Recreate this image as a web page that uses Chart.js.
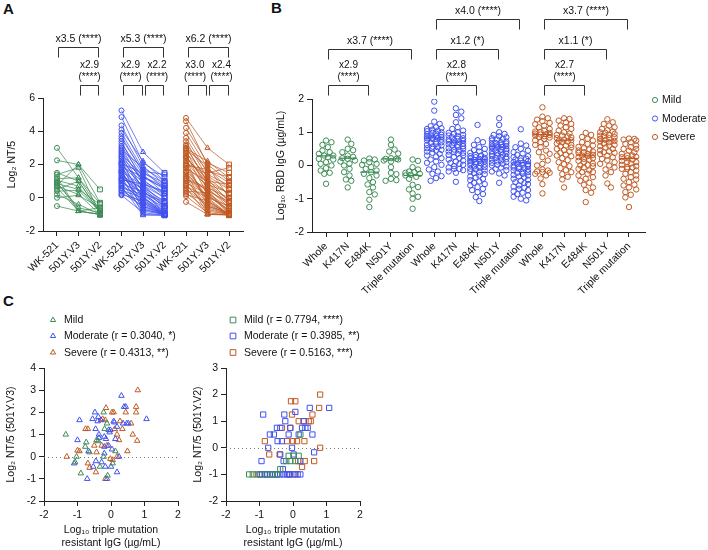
<!DOCTYPE html>
<html>
<head>
<meta charset="utf-8">
<script src="https://cdn.jsdelivr.net/npm/chart.js@4.4.0/dist/chart.umd.min.js"></script>
<style>
  body { margin: 0; background: #fff; width: 708px; height: 550px; position: relative; overflow: hidden;
         font-family: 'Liberation Sans', Arial, sans-serif; }
  canvas { position: absolute; }
  .tag { position: absolute; font-weight: bold; font-size: 15px; color: #111; }
</style>
</head>
<body>
<div class="tag" style="left:3px;top:0px">A</div>
<div class="tag" style="left:271px;top:-1px">B</div>
<div class="tag" style="left:3px;top:292px">C</div>
<canvas id="chartA" width="250" height="300" style="left:0;top:0"></canvas>
<canvas id="chartB" width="453" height="300" style="left:255px;top:0"></canvas>
<canvas id="chartC1" width="190" height="250" style="left:0;top:300px"></canvas>
<canvas id="chartC2" width="190" height="250" style="left:190px;top:300px"></canvas>
<script>
// ---------- Panel A: paired NT titres (log2 NT/5) ----------
const aVariants = ["WK-521", "501Y.V3", "501Y.V2"];
const aMildWK = [3.0, 2.25, 1.5, 1.4, 1.25, 1.15, 1.05, 0.95, 0.85, 0.75, 0.7, 0.6, 0.5, 0.4, 0.2, 0.0, -0.5, 0.9];
const aMildV3 = [1.2, 2.0, 1.0, 1.8, -0.8, 1.2, 0.7, -0.8, 0.5, 2.0, 0.2, -0.8, 1.0, 0.45, -0.4, 0.15, -0.8, -0.6];
const aMildV2 = [-0.35, 0.5, -0.9, -1.0, -0.6, -0.75, -0.9, -1.0, -0.4, -0.3, -1.0, -1.0, -0.9, -0.8, -1.0, -0.6, -1.0, -0.9];
const aModWK = [5.25, 4.85, 4.35, 4.1, 3.9, 3.7, 3.55, 3.4, 3.25, 3.1, 3.0, 2.9, 2.8, 2.7, 2.6, 2.5, 2.45, 2.35, 2.25, 2.15,
  2.1, 2.0, 1.95, 1.85, 1.8, 1.7, 1.65, 1.55, 1.5, 1.45, 1.35, 1.3, 1.2, 1.15, 1.05, 1.0, 0.9, 0.85, 0.75, 0.7,
  0.6, 0.55, 0.45, 0.4, 0.3, 0.2, 0.15, 1.1, 2.05, 1.6];
const aModV3 = [2.75, 2.1, 1.9, 2.2, 1.7, 1.5, 1.6, 0.9, 1.4, 1.2, 0.8, 1.8, 1.0, 0.5, 1.3, 0.3, 1.1, 0.6, -0.2, 0.9,
  0.0, 0.7, -0.5, 1.25, 0.4, 0.2, -0.7, 0.75, 0.1, -0.3, 0.5, -1.0, 0.25, 0.6, -0.4, 0.0, -0.8, 0.35, -0.1, -1.05,
  0.2, -0.6, 0.0, -0.3, -0.5, -0.2, -0.9, 0.8, 1.5, -0.7];
const aModV2 = [1.5, 1.25, 0.8, 1.0, 0.5, 0.75, 1.4, 0.0, 0.25, 0.6, -0.5, 1.0, 0.3, -1.0, 0.5, -0.25, 0.1, -0.6, -1.0, 0.25,
  -1.0, -0.3, -1.0, 0.7, -0.5, -0.8, -1.0, 0.0, -1.0, -1.0, -0.4, -1.05, -0.7, -0.2, -1.0, -0.9, -1.0, -0.5, -1.0, -1.05,
  -0.6, -1.0, -0.8, -1.0, -1.0, -0.9, -1.05, 0.4, 0.9, -1.0];
const aSevWK = [4.8, 4.6, 4.2, 3.9, 3.6, 3.4, 3.2, 3.1, 3.0, 2.9, 2.8, 2.7, 2.6, 2.5, 2.4, 2.3, 2.2, 2.1, 2.0, 1.9,
  1.8, 1.75, 1.6, 1.5, 1.4, 1.3, 1.2, 1.1, 1.0, 0.9, 0.8, 0.7, 0.6, 0.5, 0.4, 0.3, 0.2, 0.1, -0.25, 2.95,
  2.45, 1.95, 1.55, 1.15, 0.75];
const aSevV3 = [3.0, 2.0, 2.1, 1.8, 1.5, 1.2, 1.6, 0.9, 1.0, 1.9, 0.5, 1.3, 0.2, 0.8, 1.1, -0.5, 0.6, 1.4, -0.2, 0.7,
  0.0, 1.0, 0.3, -0.8, 0.4, -1.0, 0.1, 0.5, -0.3, 0.2, -0.6, 0.0, -1.0, -0.4, 0.3, -0.7, -0.2, -0.9, -1.0, 2.2,
  0.9, 1.7, -0.1, 0.6, -0.5];
const aSevV2 = [2.0, 1.0, 1.5, 0.5, 1.8, 0.2, 1.25, -0.5, 0.8, 0.0, -1.0, 0.5, -0.8, 0.3, -0.2, -1.0, 0.0, 0.75, -1.0, -0.3,
  -1.0, 0.25, -0.6, -1.0, -0.25, -1.0, -0.7, -0.4, -1.0, -0.9, -1.0, -0.5, -1.05, -1.0, -0.8, -1.0, -1.0, -1.05, -1.0, 1.2,
  -0.2, 0.9, -1.0, -0.6, -0.9];
// comparisons (category index from/to, row, label, small label nudge)
const aBrFrom = [0, 1, 3, 3, 4, 6, 6, 7];
const aBrTo = [2, 2, 5, 4, 5, 8, 7, 8];
const aBrRow = [1, 0, 1, 0, 0, 1, 0, 0];
const aBrText = ["x3.5 (****)", "x2.9\n(****)", "x5.3 (****)", "x2.9\n(****)", "x2.2\n(****)",
  "x6.2 (****)", "x3.0\n(****)", "x2.4\n(****)"];
const aBrNudge = [0, 0, 0, -2.5, 2.5, 0, -2.5, 2.5];

// ---------- Panel B: log10 RBD IgG ----------
const bCategories = ["Whole", "K417N", "E484K", "N501Y", "Triple mutation"];
const bMildWhole = [0.75, 0.7, 0.62, 0.55, 0.45, 0.4, 0.35, 0.3, 0.3, 0.25, 0.2, 0.18, 0.1, 0.05, 0.0, -0.08, -0.15, -0.22, -0.25, -0.55];
const bMildK417N = [0.78, 0.65, 0.5, 0.46, 0.4, 0.3, 0.26, 0.22, 0.2, 0.15, 0.12, 0.06, 0.0, -0.1, -0.2, -0.3, -0.42, -0.46, -0.66];
const bMildE484K = [0.21, 0.18, 0.15, 0.1, 0.05, 0.02, -0.05, -0.1, -0.15, -0.2, -0.25, -0.3, -0.38, -0.5, -0.57, -0.66, -0.8, -0.87, -1.03, -1.25];
const bMildN501Y = [0.78, 0.62, 0.48, 0.42, 0.36, 0.22, 0.2, 0.2, 0.18, 0.15, 0.12, -0.05, -0.22, -0.26, -0.4, -0.44, -0.46];
const bMildTriple = [0.18, 0.14, -0.05, -0.12, -0.18, -0.22, -0.25, -0.28, -0.3, -0.34, -0.4, -0.58, -0.65, -0.72, -0.84, -0.94, -1.0, -1.3, -0.2];
const bModWhole = [1.92, 1.65, 1.32, 1.25, 1.18, 1.15, 1.12, 1.1, 1.08, 1.05, 1.03, 1.0, 0.98, 0.96, 0.94, 0.92, 0.9, 0.88, 0.87, 0.85,
  0.84, 0.83, 0.82, 0.8, 0.78, 0.75, 0.72, 0.7, 0.68, 0.65, 0.62, 0.6, 0.57, 0.55, 0.52, 0.5, 0.47, 0.45, 0.42, 0.38,
  0.35, 0.3, 0.27, 0.22, 0.18, 0.12, 0.08, 0.02, -0.05, -0.12, -0.18, -0.25, -0.32, -0.38, -0.46];
const bModK417N = [1.72, 1.62, 1.52, 1.42, 1.3, 1.15, 1.1, 1.05, 1.0, 0.98, 0.95, 0.92, 0.9, 0.88, 0.85, 0.82, 0.8, 0.78, 0.76, 0.74,
  0.72, 0.7, 0.68, 0.66, 0.64, 0.62, 0.6, 0.58, 0.55, 0.52, 0.5, 0.48, 0.45, 0.42, 0.4, 0.38, 0.35, 0.32, 0.3, 0.26,
  0.22, 0.18, 0.15, 0.12, 0.08, 0.05, 0.02, -0.02, -0.06, -0.1, -0.14, -0.18, -0.22, -0.1, -0.49];
const bModE484K = [1.22, 0.76, 0.7, 0.62, 0.55, 0.5, 0.46, 0.42, 0.38, 0.35, 0.32, 0.3, 0.28, 0.25, 0.23, 0.21, 0.2, 0.18, 0.17, 0.15,
  0.14, 0.12, 0.1, 0.08, 0.06, 0.05, 0.03, 0.01, -0.01, -0.03, -0.05, -0.07, -0.1, -0.12, -0.15, -0.18, -0.2, -0.23, -0.26, -0.3,
  -0.33, -0.36, -0.4, -0.44, -0.48, -0.52, -0.56, -0.6, -0.65, -0.7, -0.74, -0.8, -0.86, -0.95, -1.07];
const bModN501Y = [1.42, 1.22, 1.0, 0.95, 0.92, 0.88, 0.85, 0.82, 0.8, 0.78, 0.75, 0.72, 0.7, 0.68, 0.66, 0.64, 0.62, 0.6, 0.58, 0.57,
  0.56, 0.55, 0.53, 0.5, 0.48, 0.46, 0.44, 0.42, 0.4, 0.38, 0.36, 0.34, 0.32, 0.3, 0.28, 0.26, 0.24, 0.22, 0.2, 0.18,
  0.15, 0.12, 0.1, 0.08, 0.05, 0.02, 0.0, -0.03, -0.06, -0.1, -0.14, -0.18, -0.24, -0.3, -0.52];
const bModTriple = [1.09, 0.66, 0.6, 0.55, 0.5, 0.45, 0.4, 0.36, 0.32, 0.28, 0.25, 0.22, 0.2, 0.18, 0.15, 0.13, 0.1, 0.08, 0.06, 0.04,
  0.02, 0.0, -0.02, -0.04, -0.06, -0.08, -0.1, -0.12, -0.15, -0.18, -0.2, -0.22, -0.25, -0.28, -0.3, -0.33, -0.36, -0.4, -0.43, -0.46,
  -0.5, -0.53, -0.56, -0.6, -0.63, -0.67, -0.7, -0.74, -0.78, -0.82, -0.86, -0.9, -0.94, -1.0, -1.05];
const bSevWhole = [1.75, 1.47, 1.42, 1.38, 1.33, 1.28, 1.24, 1.2, 1.15, 1.1, 1.05, 1.02, 1.0, 0.98, 0.96, 0.94, 0.93, 0.92, 0.9, 0.88,
  0.86, 0.84, 0.8, 0.76, 0.7, 0.62, 0.55, 0.45, 0.35, 0.25, 0.15, 0.05, 0.0, -0.12, -0.15, -0.18, -0.2, -0.22, -0.25, -0.3,
  -0.39, -0.56, -0.84, 0.4, 0.65];
const bSevK417N = [1.42, 1.4, 1.35, 1.3, 1.25, 1.2, 1.15, 1.1, 1.05, 1.0, 0.96, 0.92, 0.88, 0.85, 0.82, 0.78, 0.76, 0.74, 0.72, 0.7,
  0.66, 0.62, 0.58, 0.54, 0.5, 0.46, 0.42, 0.38, 0.33, 0.28, 0.22, 0.16, 0.1, 0.04, -0.02, -0.08, -0.14, -0.2, -0.26, -0.34,
  -0.42, -0.66, 0.3, 0.6, 0.9];
const bSevE484K = [0.98, 0.92, 0.86, 0.8, 0.75, 0.7, 0.65, 0.6, 0.56, 0.52, 0.48, 0.45, 0.42, 0.38, 0.35, 0.32, 0.3, 0.28, 0.25, 0.22,
  0.18, 0.14, 0.1, 0.06, 0.02, -0.02, -0.06, -0.1, -0.15, -0.2, -0.25, -0.3, -0.35, -0.4, -0.46, -0.52, -0.58, -0.66, -0.74, -0.82,
  -1.1, 0.2, 0.4, 0.0, -0.2];
const bSevN501Y = [1.39, 1.3, 1.25, 1.2, 1.15, 1.1, 1.06, 1.02, 0.98, 0.95, 0.92, 0.88, 0.85, 0.82, 0.8, 0.77, 0.74, 0.72, 0.7, 0.66,
  0.62, 0.58, 0.54, 0.5, 0.46, 0.42, 0.38, 0.34, 0.3, 0.25, 0.2, 0.15, 0.1, 0.05, 0.0, -0.06, -0.12, -0.2, -0.3, -0.54,
  -0.66, 0.9, 0.6, 0.4, 1.0];
const bSevTriple = [0.81, 0.8, 0.78, 0.75, 0.7, 0.65, 0.6, 0.55, 0.5, 0.45, 0.4, 0.35, 0.3, 0.26, 0.22, 0.18, 0.14, 0.1, 0.06, 0.02,
  -0.02, -0.06, -0.1, -0.15, -0.2, -0.25, -0.3, -0.35, -0.42, -0.5, -0.58, -0.66, -0.72, -0.8, -0.88, -0.96, -1.25, 0.25, 0.1, -0.05,
  -0.1, 0.5, 0.3, -0.4, -0.6];
const bMedMild = [0.29, 0.22, -0.2, 0.2, -0.3];
const bMedMod = [0.83, 0.71, 0.18, 0.56, 0.08];
const bMedSev = [0.93, 0.76, 0.31, 0.74, 0.21];
const bBrFrom = [0, 0, 5, 5, 5, 10, 10, 10];
const bBrTo = [2, 4, 7, 8, 9, 12, 13, 14];
const bBrRow = [0, 1, 0, 1, 2, 0, 1, 2];
const bBrText = ["x2.9\n(****)", "x3.7 (****)", "x2.8\n(****)", "x1.2 (*)", "x4.0 (****)",
  "x2.7\n(****)", "x1.1 (*)", "x3.7 (****)"];

// ---------- Panel C: triple-mutation-resistant IgG vs NT ----------
const cV3MildX = [-1.35, -1.03, -1.07, -0.9, -0.74, -0.77, -0.64, -0.33, -0.43, -0.38, -0.22, -0.19, -0.22, -0.1, 0.13, -0.12, 0.05];
const cV3MildY = [1.0, 0, -0.25, -0.75, 0.65, 0.45, 0.2, -0.45, 0.75, 0.7, 2.0, 1.25, 0, -0.85, 0.25, 1.5, -0.3];
const cV3ModX = [-0.94, -1.0, -1.1, -0.71, -0.67, -0.48, -0.55, -0.46, -0.4, -0.36, -0.36, -0.53, -0.45, -0.28, -0.17, -0.2, -0.2,
  -0.15, -0.07, -0.07, -0.04, -0.12, 0.03, 0.08, 0.1, 0.13, 0.18, 0.24, 0.18, 0.31, 0.39, 0.44, 0.52, 0.47, 1.06, 0.0, -0.38,
  -0.3, -0.02, 0.36, -0.2];
const cV3ModY = [1.65, 0.75, -0.3, -1.0, 0.25, 2.0, 1.7, 1.25, 1.6, 1.0, 0.85, -0.45, -0.2, -0.25, -0.45, 0.15, 0.9, 0.8, 0.5,
  1.2, 1.1, -1.0, 0.33, 1.6, 1.55, 0.8, 1.35, 0.0, -0.7, 2.75, 2.25, 2.25, 1.5, 1.5, 1.7, -0.45, 1.8, 1.65, 1.2, 1.5, 0.45];
const cV3SevX = [-1.32, -1.0, -0.94, -0.76, -0.69, -0.69, -0.64, -0.45, -0.25, -0.15, -0.17, -0.12, -0.28, 0.03, 0.08, 0.11, -0.02,
  0.05, -0.17, 0.27, 0.18, 0.24, 0.34, 0.49, 0.6, 0.65, 0.75, 0.8, 0.75, 0.78, 0.18, 0.44, -0.5, -0.43];
const cV3SevY = [0, 0.28, 0.25, 1.25, 1.25, -0.3, -0.5, -0.7, 1.7, 2.2, 1.65, 0.5, 0.5, 2.0, 2.0, 1.25, -0.1, -0.15, -1.0, 1.6,
  1.0, 0.75, 1.25, 0.25, 1.5, 1.0, 2.25, 3.0, 2.0, 0.72, 0, 2.0, 0.5, 0.2];
const cV2MildX = [-1.31, -1.2, -1.0, -0.79, -0.2, -0.13, 0.02, 0.17, 0.22, -0.08, 0.07, -0.48, -0.38, -0.6];
const cV2MildY = [-1, -1, -1, -1, -0.5, -0.3, -0.3, -0.3, 0.5, -0.5, -0.5, -1, -0.8, -1];
const cV2ModX = [-0.89, -0.94, -0.74, -0.69, -0.57, -0.48, -0.38, -0.46, -0.33, -0.38, -0.28, -0.23, -0.26, -0.13, -0.08, 0.07,
  0.02, -0.03, 0.17, 0.27, 0.32, 0.37, 0.5, 0.58, 0.63, 1.08, -0.99, -0.84, -0.69, -0.54, -0.38, -0.28, -0.18, -0.08, 0.07,
  0.22, -0.3, 0.22, 0.44, -0.92, -0.77, -0.62, -0.46, -0.12, 0.14];
const cV2ModY = [1.25, -0.5, 0, 0.5, 0.5, 0.75, 0.75, 0.25, 0.25, -0.25, -0.5, 1.0, 1.25, 0.5, 0.75, 1.35, -0.25, 0, 0.5, 0.75,
  1.0, 0.75, 1.5, 0.5, -0.17, 1.5, -1, -1, -1, -1, -1, -1, -1, -1, -1, -1, -0.8, -0.5, 0.75, -1, -1, -1, -1, -1, -1];
const cV2SevX = [-1.09, -0.84, -0.71, -0.33, -0.4, -0.18, -0.08, -0.03, -0.06, 0.07, 0, 0.12, 0.15, 0.27, 0.35, 0.34, 0.47,
  0.58, 0.32, 0.53, 0.63, 0.81, 0.78, 0.81, 0.02, -0.13, 0.17];
const cV2SevY = [-1, 0.25, -0.25, 0.75, -0.25, 0.25, 0.75, 1.25, 1.75, 1.75, 0.25, 0.25, -0.5, -0.72, -0.5, 0.25, 1.0, 1.25,
  1.0, 1.0, -0.5, 2.0, 1.5, 0, -1, -1, 1.0];
const cV3Labels = ["Mild", "Moderate (r = 0.3040, *)", "Severe (r = 0.4313, **)"];
const cV2Labels = ["Mild (r = 0.7794, ****)", "Moderate (r = 0.3985, **)", "Severe (r = 0.5163, ***)"];
const groupNames = ["Mild", "Moderate", "Severe"];

const GREEN = "#3e8c57", BLUE = "#4152ee", ORANGE = "#c05a24";
const COLORS = [GREEN, BLUE, ORANGE];
const FONT = "'Liberation Sans', Arial, sans-serif";
const NONE = "rgba(0,0,0,0)";

Chart.defaults.font.family = FONT;
Chart.defaults.font.size = 10.5;
Chart.defaults.color = "#111";
Chart.defaults.animation = false;
Chart.defaults.plugins.legend.display = false;
Chart.defaults.plugins.tooltip.enabled = false;

// small marker painter, used for the hand placed keys
function marker(ctx, style, x, y, r, color) {
  ctx.save();
  ctx.strokeStyle = color; ctx.lineWidth = 1;
  ctx.beginPath();
  if (style === "circle") ctx.arc(x, y, r, 0, Math.PI * 2);
  else if (style === "rect") { const s = r / Math.SQRT2; ctx.rect(x - s, y - s, 2 * s, 2 * s); }
  else { ctx.moveTo(x, y - r); ctx.lineTo(x + r * 0.866, y + r * 0.5); ctx.lineTo(x - r * 0.866, y + r * 0.5); ctx.closePath(); }
  ctx.stroke();
  ctx.restore();
}

const bracketPlugin = {
  id: "brackets",
  afterDraw(chart, args, o) {
    if (!o.from) return;
    const ctx = chart.ctx, xs = chart.scales.x;
    ctx.save();
    ctx.strokeStyle = "#333"; ctx.lineWidth = 1;
    ctx.fillStyle = "#111";
    ctx.textAlign = "center"; ctx.textBaseline = "middle";
    o.from.forEach((f, i) => {
      const x1 = Math.round(xs.getPixelForValue(f) + 1.5) + 0.5;
      const x2 = Math.round(xs.getPixelForValue(o.to[i]) - 1.5) + 0.5;
      const y = o.rowY[o.row[i]] + 0.5;
      ctx.beginPath();
      ctx.moveTo(x1, y + o.leg); ctx.lineTo(x1, y); ctx.lineTo(x2, y); ctx.lineTo(x2, y + o.leg);
      ctx.stroke();
      const lines = o.text[i].split("\n");
      const tx = (x1 + x2) / 2 + (o.nudge ? o.nudge[i] : 0);
      ctx.font = (lines.length > 1 ? "10px " : "10.5px ") + FONT;
      lines.forEach((t, k) => ctx.fillText(t, tx, y - 8 - (lines.length - 1 - k) * 12.5));
    });
    ctx.restore();
  }
};

const keyPlugin = {
  id: "key",
  afterDraw(chart, args, o) {
    if (!o.labels) return;
    const ctx = chart.ctx;
    ctx.save();
    ctx.font = "10.5px " + FONT; ctx.fillStyle = "#111";
    ctx.textAlign = "left"; ctx.textBaseline = "middle";
    o.labels.forEach((t, i) => {
      const y = o.y[i];
      marker(ctx, o.style, o.x, y, o.r, o.colors[i]);
      ctx.fillText(t, o.x + o.gap, y + 0.5);
    });
    ctx.restore();
  }
};

const zeroPlugin = {
  id: "zero",
  beforeDatasetsDraw(chart, args, o) {
    if (!o.on) return;
    const ctx = chart.ctx, a = chart.chartArea;
    const y = Math.round(chart.scales.y.getPixelForValue(0)) + 0.5;
    ctx.save();
    ctx.strokeStyle = "#777"; ctx.lineWidth = 1; ctx.setLineDash([1, 3]);
    ctx.beginPath(); ctx.moveTo(a.left, y); ctx.lineTo(a.right, y); ctx.stroke();
    ctx.restore();
  }
};
Chart.register(bracketPlugin, keyPlugin, zeroPlugin);

function axis(o) {
  const ax = {
    type: "linear", min: o.min, max: o.max,
    border: { color: "#222", width: 1 },
    grid: { drawOnChartArea: false, color: "#222", tickLength: 5 },
    ticks: Object.assign({ color: "#111", padding: 3, stepSize: o.step || 1, autoSkip: false }, o.ticks || {}),
    title: o.title ? { display: true, text: o.title, color: "#111", font: { size: 10.5 }, padding: o.titlePad || { top: 4, bottom: 2 } }
                   : { display: false },
    afterFit: s => { if (s.isHorizontal()) s.height = o.size; else s.width = o.size; }
  };
  if (o.values) ax.afterBuildTicks = s => { s.ticks = o.values.map(v => ({ value: v })); };
  return ax;
}

// ---------- chart A ----------
const aGroups = [[aMildWK, aMildV3, aMildV2], [aModWK, aModV3, aModV2], [aSevWK, aSevV3, aSevV2]];
const aTickLabels = [].concat(aVariants, aVariants, aVariants);
const aDatasets = [];
aGroups.forEach((g, gi) => {
  g[0].forEach((w, i) => {
    aDatasets.push({
      data: [{ x: gi * 3, y: w }, { x: gi * 3 + 1, y: g[1][i] }, { x: gi * 3 + 2, y: g[2][i] }],
      showLine: true, borderColor: COLORS[gi] + "d0", borderWidth: 0.9,
      pointStyle: ["circle", "triangle", "rect"], pointRadius: [2.5, 3, 3.4],
      pointBorderColor: COLORS[gi], pointBackgroundColor: NONE, pointBorderWidth: 1
    });
  });
});
new Chart(document.getElementById("chartA"), {
  type: "scatter",
  data: { datasets: aDatasets },
  options: {
    responsive: false,
    layout: { padding: { left: 0, right: 7, top: 98, bottom: 0 } },
    scales: {
      x: axis({ min: -0.65, max: 8.65, size: 69, values: aTickLabels.map((_, i) => i),
                ticks: { minRotation: 45, maxRotation: 45, callback: v => aTickLabels[v] } }),
      y: axis({ min: -2, max: 6, step: 2, size: 43, title: "Log\u2082 NT/5", titlePad: { top: 6, bottom: 2 } })
    },
    plugins: {
      brackets: { from: aBrFrom, to: aBrTo, row: aBrRow, text: aBrText, nudge: aBrNudge, rowY: [85, 47], leg: 10 }
    }
  }
});

// ---------- chart B ----------
// beeswarm offsets (layout only): spread points sideways so that circles overlap less
const PX_X = 21.6, PX_Y = 33.3, DIAM = 5.2;
function swarm(values, center) {
  const placed = [], out = new Array(values.length);
  const order = values.map((v, i) => i).sort((a, b) => values[b] - values[a]);
  const cands = [0];
  for (let k = 1; k <= 4; k++) cands.push(k * 1.8, -k * 1.8);
  order.forEach(i => {
    const py = values[i] * PX_Y;
    let chosen = null, bestOv = Infinity, bestC = 0;
    for (const c of cands) {
      let ov = 0;
      for (const p of placed) { const d = Math.hypot(p.x - c, p.y - py); if (d < DIAM) ov += DIAM - d; }
      if (ov === 0) { chosen = c; break; }
      if (ov < bestOv) { bestOv = ov; bestC = c; }
    }
    if (chosen === null) chosen = bestC;
    placed.push({ x: chosen, y: py });
    out[i] = { x: center + chosen / PX_X, y: values[i] };
  });
  return out;
}
const bGroups = [
  [bMildWhole, bMildK417N, bMildE484K, bMildN501Y, bMildTriple],
  [bModWhole, bModK417N, bModE484K, bModN501Y, bModTriple],
  [bSevWhole, bSevK417N, bSevE484K, bSevN501Y, bSevTriple]
];
const bMedians = [bMedMild, bMedMod, bMedSev];
const bTickLabels = [].concat(bCategories, bCategories, bCategories);
const bDatasets = [];
bGroups.forEach((g, gi) => {
  g.forEach((vals, ci) => {
    const c = gi * 5 + ci;
    bDatasets.push({
      data: swarm(vals, c), pointStyle: "circle", pointRadius: 2.7, pointBorderWidth: 1,
      pointBorderColor: COLORS[gi], pointBackgroundColor: NONE
    });
    bDatasets.push({
      data: [{ x: c - 0.42, y: bMedians[gi][ci] }, { x: c + 0.42, y: bMedians[gi][ci] }],
      showLine: true, pointRadius: 0, borderColor: COLORS[gi], borderWidth: 1.2
    });
  });
});
new Chart(document.getElementById("chartB"), {
  type: "scatter",
  data: { datasets: bDatasets },
  options: {
    responsive: false,
    layout: { padding: { left: 16, right: 63, top: 99, bottom: 0 } },
    scales: {
      x: axis({ min: -0.65, max: 14.74, size: 68, values: bTickLabels.map((_, i) => i),
                ticks: { minRotation: 45, maxRotation: 45, callback: v => bTickLabels[v] } }),
      y: axis({ min: -2, max: 2, size: 41, title: "Log\u2081\u2080 RBD IgG (\u00b5g/mL)" })
    },
    plugins: {
      brackets: { from: bBrFrom, to: bBrTo, row: bBrRow, text: bBrText, rowY: [85, 49, 19], leg: 10 },
      key: { labels: groupNames, colors: COLORS, style: "circle", r: 2.6, x: 400, y: [100, 118.5, 137], gap: 7 }
    }
  }
});

// ---------- charts C ----------
function cChart(id, sets, style, r, yMax, yTitle, labels, keyX, padLeft, ySize) {
  return new Chart(document.getElementById(id), {
    type: "scatter",
    data: {
      datasets: sets.map((s, gi) => ({
        data: s[0].map((x, i) => ({ x: x, y: s[1][i] })),
        pointStyle: style, pointRadius: r, pointBorderWidth: 1,
        pointBorderColor: COLORS[gi], pointBackgroundColor: NONE
      }))
    },
    options: {
      responsive: false,
      layout: { padding: { left: padLeft, right: id === "chartC1" ? 12 : 20, top: 68, bottom: 0 } },
      scales: {
        x: axis({ min: -2, max: 2, size: 49, title: ["Log\u2081\u2080 triple mutation", "resistant IgG (\u00b5g/mL)"],
                  titlePad: { top: 2, bottom: 1 } }),
        y: axis({ min: -2, max: yMax, size: ySize, title: yTitle, titlePad: { top: 2, bottom: 2 } })
      },
      plugins: {
        zero: { on: true },
        key: { labels: labels, colors: COLORS, style: style, r: style === "rect" ? 4 : 3, x: keyX, y: [20, 36, 52.5], gap: 11 }
      }
    }
  });
}
cChart("chartC1", [[cV3MildX, cV3MildY], [cV3ModX, cV3ModY], [cV3SevX, cV3SevY]], "triangle", 3.2, 4,
  "Log\u2082 NT/5 (501Y.V3)", cV3Labels, 53, 3, 41);
cChart("chartC2", [[cV2MildX, cV2MildY], [cV2ModX, cV2ModY], [cV2SevX, cV2SevY]], "rect", 3.7, 3,
  "Log\u2082 NT/5 (501Y.V2)", cV2Labels, 43, 0, 36);
</script>
</body>
</html>
